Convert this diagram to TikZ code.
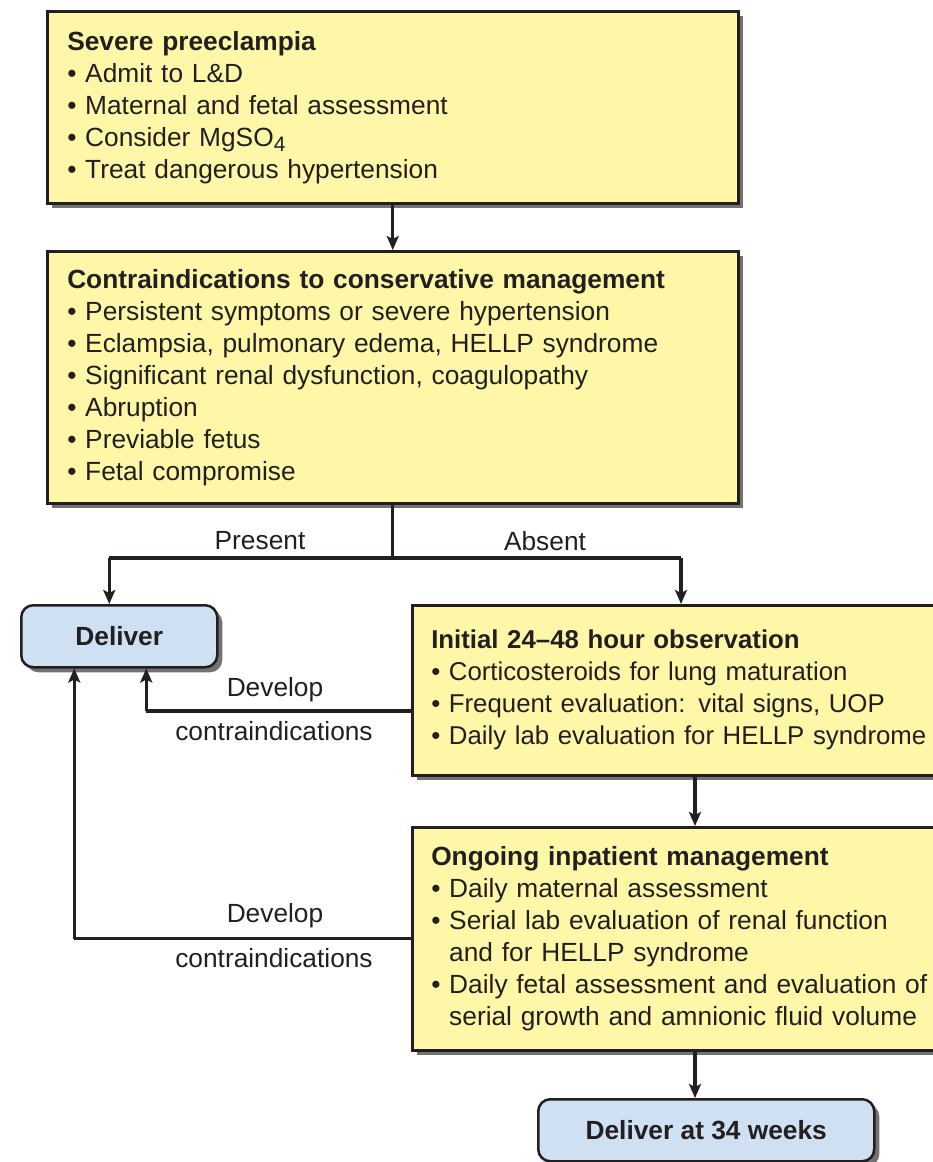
\documentclass[tikz,border=0pt]{standalone}
\usepackage{fontspec}
\setmainfont{Liberation Sans}
\usetikzlibrary{arrows.meta,shadows}
\definecolor{boxyellow}{RGB}{255,247,168}
\definecolor{boxblue}{RGB}{207,224,242}
\definecolor{ink}{RGB}{35,31,32}

\begin{document}
\begin{tikzpicture}[
   x=1pt, y=-1pt,
   every node/.style={font=\fontsize{26.3}{32}\selectfont, text=ink},
   stepbox/.style={draw=ink, line width=2.5pt, fill=boxyellow, align=left,
        anchor=north west, inner xsep=20pt, inner ysep=0pt,
        drop shadow={shadow xshift=5pt, shadow yshift=-5pt, fill=black!55, opacity=1}},
   endbox/.style={draw=ink, line width=2.5pt, fill=boxblue, rounded corners=12pt,
        anchor=north west, font=\fontsize{26.3}{32}\selectfont\bfseries,
        drop shadow={shadow xshift=5pt, shadow yshift=-5pt, fill=black!55, opacity=1}},
   arr/.style={draw=ink, line width=3.2pt, -{Stealth[length=14pt, width=12pt, inset=3pt]}},
   conn/.style={draw=ink, line width=3.2pt},
   lbl/.style={inner sep=0pt}]

\clip (0,0) rectangle (933,1162);

\node[stepbox, text width=651pt, minimum height=192pt] (severe) at (46,10)
    {\textbf{Severe preeclampia}\\
     \textbullet\ Admit to L\&D\\
     \textbullet\ Maternal and fetal assessment\\
     \textbullet\ Consider MgSO\raisebox{-0.4ex}{\fontsize{21}{21}\selectfont 4}\\
     \textbullet\ Treat dangerous hypertension};

\node[stepbox, text width=651pt, minimum height=252pt] (contra) at (46,250)
    {\textbf{Contraindications to conservative management}\\
     \textbullet\ Persistent symptoms or severe hypertension\\
     \textbullet\ Eclampsia, pulmonary edema, HELLP syndrome\\
     \textbullet\ Significant renal dysfunction, coagulopathy\\
     \textbullet\ Abruption\\
     \textbullet\ Previable fetus\\
     \textbullet\ Fetal compromise};

\node[endbox, minimum width=196pt, minimum height=62pt] (deliver) at (20,604) {Deliver};

\node[stepbox, text width=560pt, minimum height=170pt, inner xsep=19pt,
      font=\fontsize{25.8}{32}\selectfont] (initial) at (411,604)
    {\textbf{Initial 24--48 hour observation}\\
     \textbullet\ Corticosteroids for lung maturation\\
     \textbullet\ Frequent evaluation: vital signs, UOP\\
     \textbullet\ Daily lab evaluation for HELLP syndrome};

\node[stepbox, text width=560pt, minimum height=223pt, inner xsep=19pt] (ongoing) at (411,826)
    {\textbf{Ongoing inpatient management}\\
     \textbullet\ Daily maternal assessment\\
     \textbullet\ Serial lab evaluation of renal function\\
     \phantom{\textbullet\ }and for HELLP syndrome\\
     \textbullet\ Daily fetal assessment and evaluation of\\
     \phantom{\textbullet\ }serial growth and amnionic fluid volume};

\node[endbox, minimum width=336pt, minimum height=62pt] (weeks) at (537,1098) {Deliver at 34 weeks};

\coordinate (split) at (0,558);
\coordinate (spine) at (695,0);
\coordinate (present turn) at ([xshift=-10pt]deliver.north |- split);
\coordinate (absent turn) at ([xshift=270pt]initial.north west |- split);
\coordinate (turn1) at ([xshift=27pt]deliver.south |- 0,711);
\coordinate (turn2) at ([xshift=-45pt]deliver.south |- ongoing.west);

\draw[arr] (severe.south) -- (contra.north);
\draw[conn, line join=round] (present turn) -- (absent turn);
\draw[conn] (contra.south) -- (contra.south |- split);
\draw[arr] (present turn) -- ([xshift=-10pt]deliver.north);
\draw[arr] (absent turn) -- (absent turn |- initial.north);
\draw[conn] (initial.west |- turn1) -- (turn1);
\draw[arr] (turn1) -- ([xshift=27pt]deliver.south);
\draw[conn] (ongoing.west) -- (turn2);
\draw[arr] (turn2) -- ([xshift=-45pt]deliver.south);
\draw[arr] (initial.south -| spine) -- (ongoing.north -| spine);
\draw[arr] (ongoing.south -| spine) -- (weeks.north -| spine);

\node[lbl] (present) at (260,541) {Present};
\node[lbl] (absent) at (545,541) {Absent};
\node[lbl] (dev1) at (275,690) {Develop};
\node[lbl] (contra1) at (274,731) {contraindications};
\node[lbl] (dev2) at (275,916) {Develop};
\node[lbl] (contra2) at (274,958) {contraindications};

\end{tikzpicture}
\end{document}
